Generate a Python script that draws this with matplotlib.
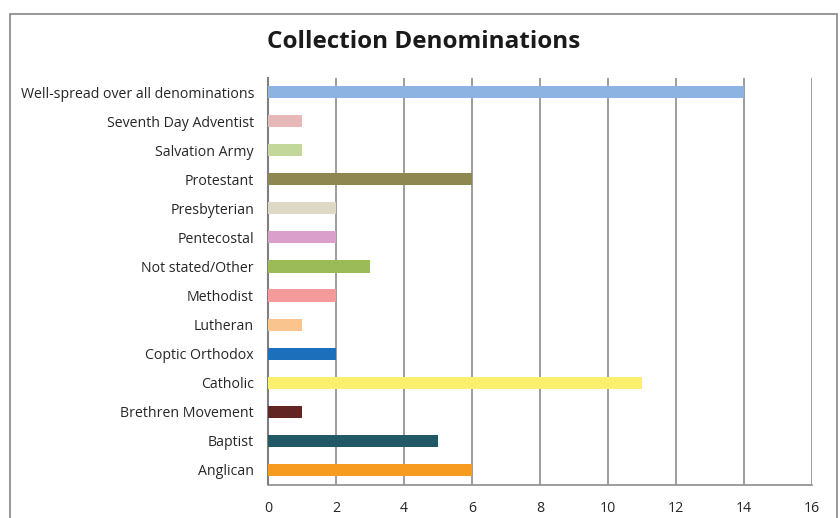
import matplotlib
matplotlib.use("Agg")
import matplotlib.pyplot as plt
from matplotlib.patches import Rectangle

categories = ["Anglican", "Baptist", "Brethren Movement", "Catholic", "Coptic Orthodox",
              "Lutheran", "Methodist", "Not stated/Other", "Pentecostal", "Presbyterian",
              "Protestant", "Salvation Army", "Seventh Day Adventist",
              "Well-spread over all denominations"]
values = [6, 5, 1, 11, 2, 1, 2, 3, 2, 2, 6, 1, 1, 14]
colors = ["#F79A20", "#215967", "#632523", "#FAF06E", "#1C6FBA", "#FAC48F", "#F59A9A",
          "#9BBB59", "#DAA0CB", "#DDD9C4", "#8F8750", "#C4D79B", "#E6B9B8", "#8DB3E2"]
xticks = [0, 2, 4, 6, 8, 10, 12, 14, 16]

plt.rcParams['font.family'] = ['Open Sans', 'DejaVu Sans']

fig = plt.figure(figsize=(8.4, 5.18), dpi=100)
ax = fig.add_axes([268/840, 1-484.5/518, (812-268)/840, (484.5-77.5)/518])

ax.barh(range(len(categories)), values, height=0.42, color=colors, zorder=3)
ax.set_ylim(-0.5, len(categories)-0.5)
ax.set_xlim(0, 16)
ax.set_xticks(xticks)
ax.set_yticks(range(len(categories)))
ax.set_yticklabels(categories, fontsize=10.2, color="#262626")
ax.tick_params(axis='x', labelsize=10.2, colors="#262626", length=0, pad=12)
ax.tick_params(axis='y', length=0, pad=10)
ax.grid(axis='x', color="#8C8C8C", linewidth=1.2, zorder=0)
for s in ["top", "right"]:
    ax.spines[s].set_visible(False)
ax.spines["left"].set_color("#7F7F7F")
ax.spines["left"].set_linewidth(1.5)
ax.spines["bottom"].set_color("#8C8C8C")
ax.spines["bottom"].set_linewidth(1.2)

fig.text(424/840, 1-42/518, "Collection Denominations", ha="center", va="center",
         fontsize=17.5, fontweight="bold", color="#1A1A1A")

border = Rectangle((10/840, -0.05), (837-10)/840, 1-14/518+0.05, transform=fig.transFigure,
                   fill=False, edgecolor="#868686", linewidth=1.2, clip_on=False)
fig.patches.append(border)

fig.savefig("out.png", dpi=100)
